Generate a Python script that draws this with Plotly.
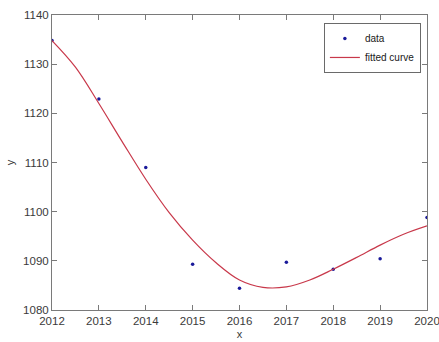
import plotly.graph_objects as go

# Observed yearly values
years = [2012, 2013, 2014, 2015, 2016, 2017, 2018, 2019, 2020]
values = [1134.8, 1122.9, 1109.0, 1089.3, 1084.4, 1089.7, 1088.3, 1090.4, 1098.8]

# Fitted curve sampled at half-year steps
fit_x = [2012.0, 2012.5, 2013.0, 2013.5, 2014.0, 2014.5, 2015.0, 2015.5, 2016.0,
         2016.5, 2017.0, 2017.5, 2018.0, 2018.5, 2019.0, 2019.5, 2020.0]
fit_y = [1134.8, 1129.4, 1122.0, 1114.2, 1106.6, 1099.8, 1094.2, 1089.6, 1086.1,
         1084.6, 1084.7, 1086.1, 1088.3, 1090.7, 1093.2, 1095.4, 1097.1]

x_ticks = [2012, 2013, 2014, 2015, 2016, 2017, 2018, 2019, 2020]
y_ticks = [1080, 1090, 1100, 1110, 1120, 1130, 1140]

axis_color = "#7a7a7a"
text_color = "#3a3a3a"
font_family = "Liberation Sans, Arial, sans-serif"

fig = go.Figure()
fig.add_trace(go.Scatter(
    x=years, y=values, mode="markers", name="data",
    marker=dict(color="#1a1a9a", size=3.5),
))
fig.add_trace(go.Scatter(
    x=fit_x, y=fit_y, mode="lines", name="fitted curve",
    line=dict(color="#c8384a", width=1.2, shape="spline", smoothing=1.0),
))

axis_common = dict(
    showgrid=False, zeroline=False, showline=True, linecolor=axis_color,
    linewidth=1, mirror="ticks", ticks="inside", ticklen=5, automargin=False,
    ticklabeloverflow="allow",
    tickcolor=axis_color, tickfont=dict(size=11.5, color=text_color, family=font_family),
)

fig.update_layout(
    width=439, height=342,
    margin=dict(l=52, r=12, t=15, b=32),
    paper_bgcolor="white", plot_bgcolor="white",
    showlegend=True,
    legend=dict(
        x=0.725, y=0.973, xanchor="left", yanchor="top",
        bordercolor="#6a6a6a", borderwidth=1, bgcolor="white",
        font=dict(size=10, color="#202020", family=font_family),
        tracegroupgap=0, itemwidth=30,
    ),
    xaxis=dict(
        range=[2012, 2020], tickvals=x_ticks,
        title=dict(text="x", standoff=4, font=dict(size=11, color=text_color, family=font_family)),
        **axis_common,
    ),
    yaxis=dict(
        range=[1080, 1140], tickvals=y_ticks,
        title=dict(text="y", standoff=6, font=dict(size=11, color=text_color, family=font_family)),
        **axis_common,
    ),
)

fig.write_html("out.html")
